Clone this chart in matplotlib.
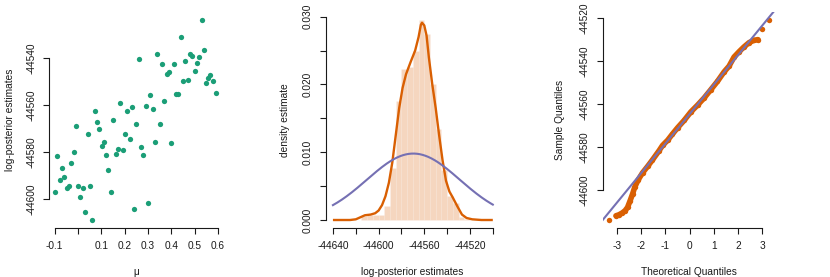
import matplotlib
matplotlib.use('Agg')
import matplotlib.pyplot as plt
import numpy as np

plt.rcParams['font.family'] = ['Liberation Sans', 'DejaVu Sans']
plt.rcParams['axes.unicode_minus'] = False

GREEN = '#1B9E77'
ORANGE = '#D95F02'
PURPLE = '#7570B3'

# ---------------- data ----------------
# panel 1: scatter of mu vs log-posterior estimates
mu_vals = [0.530, 0.440, 0.541, 0.341, 0.261, 0.361, 0.410, 0.480, 0.490, 0.521,
           0.460, 0.510, 0.500, 0.380, 0.391, 0.450, 0.470, 0.550, 0.558, 0.568,
           0.581, 0.591, 0.420, 0.431, 0.311, 0.371, 0.181, 0.291, 0.321, 0.231,
           0.211, 0.072, 0.080, 0.090, 0.150, -0.008, 0.042, 0.251, 0.351, 0.201,
           0.221, 0.113, 0.102, 0.329, 0.400, 0.269, 0.171, 0.191, 0.161, 0.120,
           0.281, -0.089, -0.018, -0.030, -0.070, 0.130, -0.079, -0.058, -0.048, -0.038,
           0.000, 0.022, 0.050, -0.099, 0.140, 0.010, 0.301, 0.241, 0.030, 0.060]
logpost_vals = [-44523.7, -44531.2, -44536.5, -44538.4, -44540.4, -44542.7, -44542.4, -44538.4, -44539.2, -44539.7,
                -44541.1, -44542.3, -44545.4, -44546.7, -44546.1, -44549.8, -44549.5, -44550.6, -44548.6, -44547.1,
                -44549.6, -44555.0, -44555.3, -44555.1, -44555.7, -44558.3, -44559.2, -44560.2, -44561.6, -44560.9,
                -44562.6, -44562.4, -44567.0, -44570.0, -44566.3, -44568.7, -44572.3, -44568.0, -44567.9, -44572.1,
                -44574.2, -44575.8, -44577.2, -44575.5, -44575.9, -44577.8, -44578.8, -44579.1, -44580.8, -44581.0,
                -44581.0, -44581.5, -44579.9, -44584.6, -44586.6, -44587.4, -44591.6, -44590.4, -44595.0, -44594.5,
                -44594.5, -44595.0, -44594.2, -44597.0, -44596.7, -44599.1, -44601.6, -44604.2, -44605.5, -44608.8]
p1_xticks = [-0.1, 0.0, 0.1, 0.2, 0.3, 0.4, 0.5, 0.6]
p1_xticklabels = ['-0.1', '', '0.1', '0.2', '0.3', '0.4', '0.5', '0.6']
p1_yticks = [-44600, -44580, -44560, -44540]

# panel 2: histogram, kernel density, normal curve
hist_edges = [-44615, -44610, -44605, -44600, -44595, -44590, -44585, -44580, -44575,
              -44570, -44565, -44560, -44555, -44550, -44545, -44540, -44535, -44530,
              -44525, -44520]
hist_density = [0.0006, 0.0008, 0.0008, 0.0007, 0.0020, 0.0076, 0.0175, 0.0223, 0.0226,
                0.0249, 0.0295, 0.0274, 0.0200, 0.0134, 0.0074, 0.0036, 0.0025, 0.0004,
                0.0002]
kde_x = [-44640, -44625, -44620, -44616, -44612, -44607, -44603, -44600, -44597, -44594,
         -44591, -44588, -44585, -44582, -44579, -44576, -44572, -44568, -44565, -44563,
         -44562, -44560, -44558, -44556, -44553, -44550, -44547, -44544, -44541, -44538,
         -44535, -44531, -44527, -44523, -44518, -44510, -44500]
kde_y = [0.0000, 0.0000, 0.0001, 0.0004, 0.0007, 0.0008, 0.0010, 0.0014, 0.0022, 0.0035,
         0.0055, 0.0085, 0.0125, 0.0165, 0.0195, 0.0215, 0.0233, 0.0250, 0.0270, 0.0288,
         0.0291, 0.0287, 0.0272, 0.0240, 0.0200, 0.0165, 0.0125, 0.0088, 0.0058, 0.0042,
         0.0033, 0.0020, 0.0008, 0.0003, 0.0001, 0.0000, 0.0000]
normal_mean = -44569.6
normal_sd = 40.7
normal_range = (-44640, -44500)
p2_xticks = [-44640, -44620, -44600, -44580, -44560, -44540, -44520, -44500]
p2_xticklabels = ['-44640', '', '-44600', '', '-44560', '', '-44520', '']
p2_yticks = [0.000, 0.005, 0.010, 0.015, 0.020, 0.025, 0.030]
p2_yticklabels = ['0.000', '', '0.010', '', '0.020', '', '0.030']

# panel 3: normal QQ plot
qq_theoretical = [-3.33, -3.05, -2.92, -2.78, -2.67, -2.57, -2.46, -2.36, -2.27, -2.13,
                  -1.95, -1.74, -1.54, -1.26, -1.12, -0.91, -0.71, -0.50, -0.23, 0.05,
                  0.33, 0.60, 0.88, 1.15, 1.43, 1.63, 1.84, 2.05, 2.25, 2.46,
                  2.67, 2.83, 2.99, 3.29]
qq_sample = [-44613.8, -44612.0, -44611.5, -44610.6, -44609.6, -44608.1, -44604.9, -44601.8, -44598.6, -44595.3,
             -44592.0, -44589.0, -44586.0, -44581.6, -44579.2, -44576.8, -44573.9, -44571.0, -44567.6, -44563.6,
             -44560.4, -44557.1, -44553.2, -44549.4, -44544.9, -44542.3, -44538.0, -44535.5, -44533.3, -44531.3,
             -44530.2, -44529.9, -44525.1, -44520.8]
qqline_intercept = -44564.6
qqline_slope = 13.72
p3_xticks = [-3, -2, -1, 0, 1, 2, 3]
p3_yticks = [-44600, -44580, -44560, -44540, -44520]

# ---------------- layout ----------------
W, H = 830, 277
fig = plt.figure(figsize=(W / 100, H / 100), dpi=100)
FS = 7.3
TXT = '#1a1a1a'

def make_ax(k):
    left = 49.3 + 276.67 * k
    top, bottom = 11.7, 228.0
    ax = fig.add_axes([left / W, (H - bottom) / H, 173 / W, (bottom - top) / H])
    ax.patch.set_alpha(0)
    for s in ('top', 'right'):
        ax.spines[s].set_visible(False)
    for s in ('left', 'bottom'):
        ax.spines[s].set_linewidth(0.8)
        ax.spines[s].set_color(TXT)
    ax.tick_params(direction='out', length=4.3, width=0.8, labelsize=FS, pad=5,
                   color=TXT, labelcolor=TXT)
    return ax

def finish(ax, xt, yt, xtl=None, ytl=None):
    ax.set_xticks(xt)
    ax.set_yticks(yt)
    if xtl is not None:
        ax.set_xticklabels(xtl)
    if ytl is not None:
        ax.set_yticklabels(ytl)
    ax.spines['bottom'].set_bounds(xt[0], xt[-1])
    ax.spines['left'].set_bounds(yt[0], yt[-1])
    for lab in ax.get_yticklabels():
        lab.set_rotation(90)
        lab.set_va('center')
        lab.set_ha('right')

def labels(k, xl, yl):
    cx = (49.3 + 276.67 * k) + 173 / 2
    fig.text(cx / W, 1 - 272 / H, xl, ha='center', va='center', fontsize=FS, color=TXT)
    fig.text((10 + 275 * k) / W, 1 - 120 / H, yl, ha='center', va='center',
             rotation=90, fontsize=FS, color=TXT)

# panel 1
ax1 = make_ax(0)
ax1.plot(mu_vals, logpost_vals, 'o', color=GREEN, ms=3.8, mec='none')
ax1.set_xlim(-0.123, 0.619)
ax1.set_ylim(-44612.2, -44520.3)
finish(ax1, p1_xticks, p1_yticks, p1_xticklabels)
labels(0, 'μ', 'log-posterior estimates')

# panel 2
ax2 = make_ax(1)
edges = np.array(hist_edges, dtype=float)
ax2.bar(edges[:-1], hist_density, width=np.diff(edges), align='edge',
        color=ORANGE, alpha=0.25, edgecolor=(1, 1, 1, 0.5), linewidth=0.4)
ax2.plot(kde_x, kde_y, color=ORANGE, lw=1.7, solid_capstyle='butt')
xs = np.linspace(normal_range[0], normal_range[1], 400)
ys = np.exp(-0.5 * ((xs - normal_mean) / normal_sd) ** 2) / (normal_sd * np.sqrt(2 * np.pi))
ax2.plot(xs, ys, color=PURPLE, lw=1.5)
ax2.set_xlim(-44646.1, -44494.6)
ax2.set_ylim(-0.00118, 0.03073)
finish(ax2, p2_xticks, p2_yticks, p2_xticklabels, p2_yticklabels)
labels(1, 'log-posterior estimates', 'density estimate')

# panel 3
ax3 = make_ax(2)
ax3.plot(qq_theoretical[1:-2], qq_sample[1:-2], '-', color=ORANGE, lw=4.0,
         solid_capstyle='round', solid_joinstyle='round')
ax3.plot(qq_theoretical, qq_sample, 'o', color=ORANGE, ms=3.9, mec='none')
ax3.axline((0, qqline_intercept), slope=qqline_slope, color=PURPLE, lw=1.5)
ax3.set_xlim(-3.60, 3.56)
ax3.set_ylim(-44617.7, -44516.9)
finish(ax3, p3_xticks, p3_yticks)
labels(2, 'Theoretical Quantiles', 'Sample Quantiles')

fig.savefig('out.png', dpi=100)
